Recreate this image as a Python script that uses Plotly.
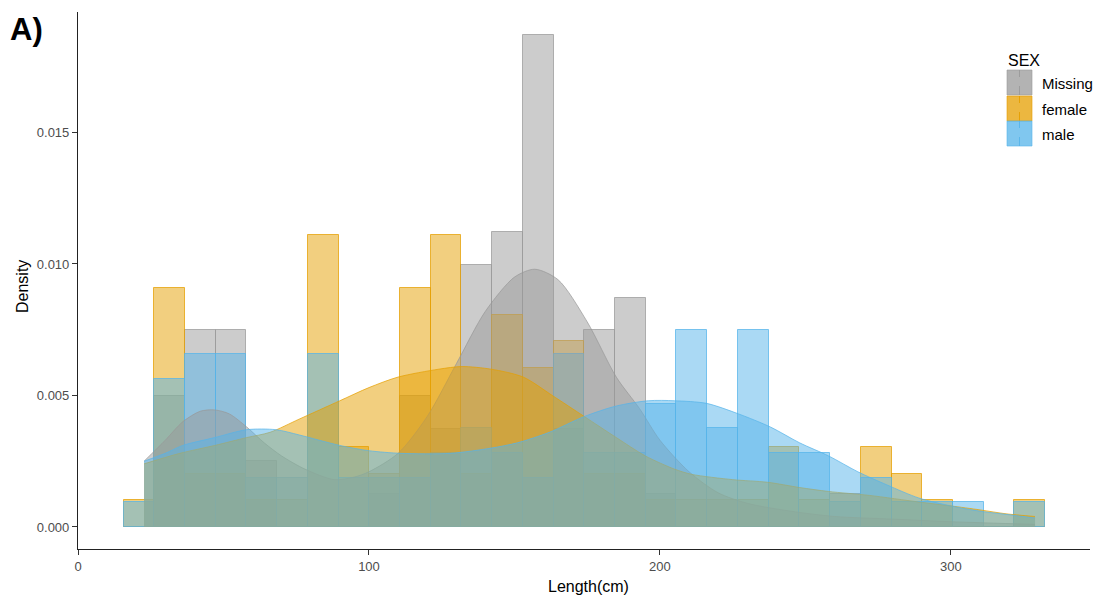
import numpy as np
import plotly.graph_objects as go

# ---- histogram data: counts per length bin for each SEX group ----
bin_start = 15.66      # left edge of the first bin (cm)
bin_width = 10.557     # bin width (cm)

groups = ["Missing", "female", "male"]

counts_missing = [0, 4, 6, 6, 2, 0, 0, 0, 1, 4, 3, 8, 9, 15, 3,
                  6, 7, 1, 0, 0, 0, 0, 0, 1, 0, 0, 0, 0, 0, 0]
counts_female = [1, 9, 2, 2, 1, 1, 11, 3, 2, 9, 11, 2, 8, 6, 7,
                 2, 2, 1, 1, 1, 1, 3, 1, 0, 3, 2, 1, 0, 0, 1]
counts_male = [1, 6, 7, 7, 2, 2, 7, 2, 2, 2, 3, 4, 3, 2, 7,
               3, 3, 5, 8, 4, 8, 3, 3, 1, 2, 1, 1, 1, 0, 1]

# ---- kernel density curves (length in cm, density) ----
dens_missing_x = [22.7, 30, 36, 42, 47, 52, 58, 64, 70, 78, 88, 95, 100, 110, 120,
                  130, 140, 150, 157, 165, 175, 185, 193, 200, 210, 220, 230, 245,
                  260, 280, 300, 328.9]
dens_missing_y = [0.0025, 0.0033, 0.0040, 0.0044, 0.00445, 0.0043, 0.0038, 0.0032,
                  0.0027, 0.0022, 0.0018, 0.0019, 0.0021, 0.0028, 0.0042, 0.0062,
                  0.0082, 0.0095, 0.0098, 0.0094, 0.0078, 0.0057, 0.0045, 0.0033,
                  0.0021, 0.0013, 0.0009, 0.0006, 0.0004, 0.0003, 0.0002, 0.0001]

dens_female_x = [22.7, 35, 47, 58, 66, 76, 90, 100, 110, 124, 132, 142, 153, 163,
                 174, 185, 195, 205, 211, 225, 237, 248, 258, 272, 289, 300, 310,
                 319, 328.9]
dens_female_y = [0.0024, 0.0028, 0.0031, 0.0034, 0.0036, 0.0041, 0.0048, 0.0053,
                 0.0057, 0.0060, 0.0061, 0.0060, 0.0057, 0.0050, 0.0042, 0.0034,
                 0.0027, 0.0022, 0.0020, 0.0018, 0.0017, 0.0015, 0.00135, 0.0012,
                 0.00095, 0.0008, 0.00065, 0.0005, 0.0004]

dens_male_x = [22.7, 30, 36, 47, 58, 68, 76, 90, 100, 111, 128, 142, 151, 162, 174,
               185, 196, 205, 216, 227, 238, 248, 258, 268, 278, 289, 300, 310, 319,
               328.9]
dens_male_y = [0.0025, 0.0028, 0.0031, 0.0034, 0.0037, 0.0037, 0.0035, 0.0031,
               0.0029, 0.0028, 0.0028, 0.0030, 0.0032, 0.0036, 0.0042, 0.0046,
               0.0048, 0.0048, 0.0047, 0.0043, 0.0038, 0.0032, 0.0027, 0.0021,
               0.0016, 0.0011, 0.0008, 0.0006, 0.00048, 0.00034]

# ---- styling ----
base_colors = {"Missing": (153, 153, 153), "female": (230, 159, 0), "male": (86, 180, 233)}
FONT = "Liberation Sans, Arial, sans-serif"


def rgba(rgb, a):
    return "rgba(%d,%d,%d,%.3f)" % (rgb[0], rgb[1], rgb[2], a)


counts = {"Missing": counts_missing, "female": counts_female, "male": counts_male}
dens = {"Missing": (dens_missing_x, dens_missing_y),
        "female": (dens_female_x, dens_female_y),
        "male": (dens_male_x, dens_male_y)}

n_bins = len(counts_missing)
centers = bin_start + bin_width * (np.arange(n_bins) + 0.5)

fig = go.Figure()

# histogram bars (density scale: count / (n * binwidth))
for g in groups:
    c = np.array(counts[g], dtype=float)
    d = c / (c.sum() * bin_width)
    fig.add_trace(go.Bar(
        x=centers, y=d, width=bin_width, name=g, showlegend=False,
        marker=dict(color=rgba(base_colors[g], 0.5),
                    line=dict(color=rgba(base_colors[g], 0.75), width=1)),
        hoverinfo="x+y",
    ))

# density areas on top
for g in groups:
    xs, ys = dens[g]
    fig.add_trace(go.Scatter(
        x=xs, y=ys, mode="lines", fill="tozeroy", showlegend=False,
        line=dict(color=rgba(base_colors[g], 0.7), width=1, shape="spline", smoothing=0.8),
        fillcolor=rgba(base_colors[g], 0.5),
        hoverinfo="x+y",
    ))

# ---- layout geometry (pixels) ----
W, H = 1097, 599
L, R, T, B = 78, 1090, 12, 549


def px_x(px):
    return (px - L) / (R - L)


def px_y(py):
    return (B - py) / (B - T)


axis_common = dict(showgrid=False, zeroline=False, showline=True, linecolor="#222222",
                   linewidth=1.1, ticks="outside", ticklen=5, tickwidth=1,
                   tickcolor="#333333",
                   tickfont=dict(family=FONT, size=13, color="#4D4D4D"))

fig.update_layout(
    width=W, height=H,
    margin=dict(l=L, r=W - R, t=T, b=H - B),
    paper_bgcolor="white", plot_bgcolor="white",
    barmode="overlay", bargap=0,
    showlegend=False,
    xaxis=dict(range=[0, 347.8], tickvals=[0, 100, 200, 300], **axis_common),
    yaxis=dict(range=[-0.000837, 0.01958], tickvals=[0, 0.005, 0.010, 0.015],
               tickformat=".3f", **axis_common),
)

annotations = [
    dict(text="<b>A)</b>", x=px_x(8), y=px_y(30), xref="paper", yref="paper",
         xanchor="left", yanchor="middle", showarrow=False,
         font=dict(family=FONT, size=31, color="black")),
    dict(text="Density", x=px_x(22), y=px_y(287), xref="paper", yref="paper",
         xanchor="center", yanchor="middle", textangle=-90, showarrow=False,
         font=dict(family=FONT, size=16, color="black")),
    dict(text="Length(cm)", x=px_x(588), y=px_y(586), xref="paper", yref="paper",
         xanchor="center", yanchor="middle", showarrow=False,
         font=dict(family=FONT, size=16, color="black")),
    dict(text="SEX", x=px_x(1006), y=px_y(60), xref="paper", yref="paper",
         xanchor="left", yanchor="middle", showarrow=False,
         font=dict(family=FONT, size=16, color="black")),
]

# legend keys drawn as shapes
shapes = []
key_tops = [70, 96, 121]
key_h = 25
for g, top in zip(groups, key_tops):
    x0, x1 = 1007, 1032
    shapes.append(dict(type="rect", xref="paper", yref="paper",
                       x0=px_x(x0), x1=px_x(x1), y0=px_y(top + key_h), y1=px_y(top),
                       fillcolor=rgba(base_colors[g], 0.75),
                       line=dict(color=rgba(base_colors[g], 0.6), width=1)))
    shapes.append(dict(type="line", xref="paper", yref="paper",
                       x0=px_x((x0 + x1) / 2), x1=px_x((x0 + x1) / 2),
                       y0=px_y(top + key_h), y1=px_y(top),
                       line=dict(color=rgba(base_colors[g], 0.9), width=1, dash="dash")))
    annotations.append(dict(text=g, x=px_x(1040), y=px_y(top + key_h / 2 + 1),
                            xref="paper", yref="paper", xanchor="left", yanchor="middle",
                            showarrow=False,
                            font=dict(family=FONT, size=15, color="black")))

fig.update_layout(annotations=annotations, shapes=shapes)

fig.write_html("out.html")
